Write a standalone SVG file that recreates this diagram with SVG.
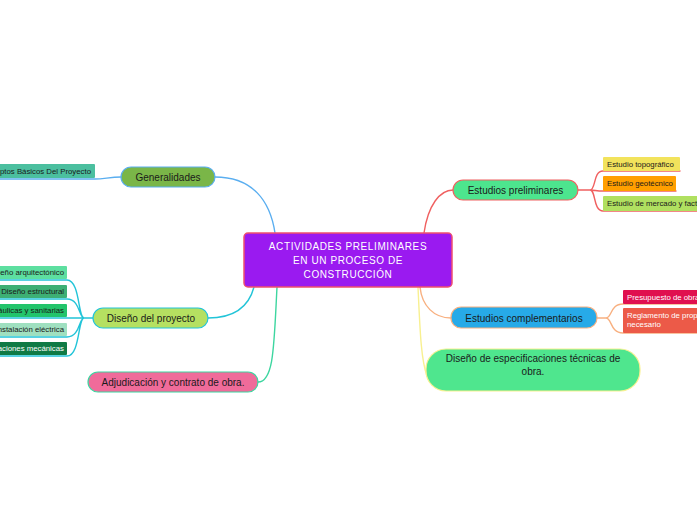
<svg xmlns="http://www.w3.org/2000/svg" width="697" height="520" viewBox="0 0 697 520">
<style>
text{font-family:"Liberation Sans","DejaVu Sans",sans-serif;fill:#1a1a1a}
.main{font-size:10px;text-anchor:middle}
.sub{font-size:7.8px}
.w{fill:#ffffff}
.c{fill:none;stroke-width:1.4;stroke-linecap:round}
</style>
<rect width="697" height="520" fill="#ffffff"/>
<g id="connectors">
<path class="c" stroke="#5aaef0" d="M215,177 C252,177 270,200 275,233"/>
<path class="c" stroke="#22c4d8" d="M254,287 C249,306 236,318 208,318"/>
<path class="c" stroke="#3dd6a0" d="M277,287 C274,345 274,382 258,382"/>
<path class="c" stroke="#f06060" d="M424,233 C428,205 440,190 453,190"/>
<path class="c" stroke="#f8b080" d="M420,287 C422,306 434,318 451,318"/>
<path class="c" stroke="#f8f090" d="M418,287 C420,330 421,360 427,376"/>
<path class="c" stroke="#5aaef0" d="M121,177 C110,177 104,179 95,179 H0"/>
<path class="c" stroke="#22c4d8" d="M93,318 H84 C78,318 80,280 67,280 H0 M93,318 H84 C79,318 80,299 67,299 H0 M93,318 H0 M84,318 C79,318 80,337 67,337 H0 M84,318 C78,318 80,356 67,356 H0"/>
<path class="c" stroke="#f06060" d="M578,190 H590 C596,190 593,171 603,171 H680 M590,190 C595,190 596,191 603,191 H676 M590,190 C596,190 593,211 603,211 H697"/>
<path class="c" stroke="#f8b080" d="M597,318 H606 C612,318 610,304 623,304 H697 M606,318 C612,318 610,333 623,333 H697"/>
</g>
<g id="center">
<rect x="244" y="233" width="208" height="54" rx="4" fill="#9a1af0" stroke="#f0506e" stroke-width="1.5"/>
<text class="main w" x="348" y="250" font-size="10.5" letter-spacing="0.6">ACTIVIDADES PRELIMINARES</text>
<text class="main w" x="348" y="264" font-size="10.5" letter-spacing="0.6">EN UN PROCESO DE</text>
<text class="main w" x="348" y="278" font-size="10.5" letter-spacing="0.6">CONSTRUCCIÓN</text>
</g>
<g id="generalidades">
<rect x="121" y="167" width="94" height="20" rx="10" fill="#7ab648" stroke="#5aaef0" stroke-width="1.2"/>
<text class="main" x="168" y="181">Generalidades</text>
</g>
<g id="conceptos">
<rect x="-20" y="164" width="115" height="14" rx="1" fill="#4bbf9f"/>
<text class="sub" x="91" y="173.500" text-anchor="end">Conceptos Básicos Del Proyecto</text>
</g>
<g id="diseno-proyecto">
<rect x="93" y="308" width="115" height="20" rx="10" fill="#b5e061" stroke="#22c4d8" stroke-width="1.2"/>
<text class="main" x="151" y="322">Diseño del proyecto</text>
</g>
<g id="arquitectonico">
<rect x="-20" y="266" width="87" height="13" rx="1" fill="#5ddfa0"/>
<text class="sub" x="64" y="275.300" text-anchor="end">Diseño arquitectónico</text>
</g>
<g id="estructural">
<rect x="-20" y="285" width="87" height="13" rx="1" fill="#3daf74"/>
<text class="sub" x="64" y="294.300" text-anchor="end">Diseño estructural</text>
</g>
<g id="hidraulicas">
<rect x="-20" y="304" width="87" height="13" rx="1" fill="#22c46b"/>
<text class="sub" x="64" y="313.300" text-anchor="end">Instalaciones hidráulicas y sanitarias</text>
</g>
<g id="electrica">
<rect x="-20" y="323" width="87" height="13" rx="1" fill="#9fe0c0"/>
<text class="sub" x="64" y="332.300" text-anchor="end">Instalación eléctrica</text>
</g>
<g id="mecanicas">
<rect x="-20" y="342" width="87" height="13" rx="1" fill="#0f7a45"/>
<text class="sub w" x="64" y="351.300" text-anchor="end">Instalaciones mecánicas</text>
</g>
<g id="adjudicacion">
<rect x="88" y="372" width="170" height="20" rx="10" fill="#f06b9a" stroke="#3dd6a0" stroke-width="1.2"/>
<text class="main" x="173" y="386">Adjudicación y contrato de obra.</text>
</g>
<g id="estudios-preliminares">
<rect x="453" y="180" width="125" height="20" rx="10" fill="#4de58e" stroke="#f06060" stroke-width="1.2"/>
<text class="main" x="515.500" y="194">Estudios preliminares</text>
</g>
<g id="topografico">
<rect x="603" y="157" width="77" height="14" rx="1" fill="#f2e35c"/>
<text class="sub" x="607" y="166.800">Estudio topográfico</text>
</g>
<g id="geotecnico">
<rect x="603" y="176" width="73" height="15" rx="1" fill="#ff9f00"/>
<text class="sub" x="607" y="186.300">Estudio geotécnico</text>
</g>
<g id="mercado">
<rect x="603" y="196" width="110" height="15" rx="1" fill="#b0e060"/>
<text class="sub" x="607" y="206.300">Estudio de mercado y factibilidad</text>
</g>
<g id="estudios-complementarios">
<rect x="451" y="307" width="146" height="21" rx="10" fill="#27aae8" stroke="#f8b080" stroke-width="1.2"/>
<text class="main" x="524" y="321.500">Estudios complementarios</text>
</g>
<g id="presupuesto">
<rect x="623" y="290" width="90" height="14" rx="1" fill="#e0104f"/>
<text class="sub w" x="627" y="299.800">Presupuesto de obra</text>
</g>
<g id="reglamento">
<rect x="623" y="308" width="90" height="25" rx="1" fill="#ec5a48"/>
<text class="sub w" x="627" y="317.800">Reglamento de propiedad</text>
<text class="sub w" x="627" y="327.300">necesario</text>
</g>
<g id="especificaciones">
<rect x="426" y="349" width="214" height="42" rx="20" fill="#4fe68e" stroke="#f8f090" stroke-width="1.2"/>
<text class="main" x="533" y="362">Diseño de especificaciones técnicas de</text>
<text class="main" x="533" y="375">obra.</text>
</g>
</svg>
